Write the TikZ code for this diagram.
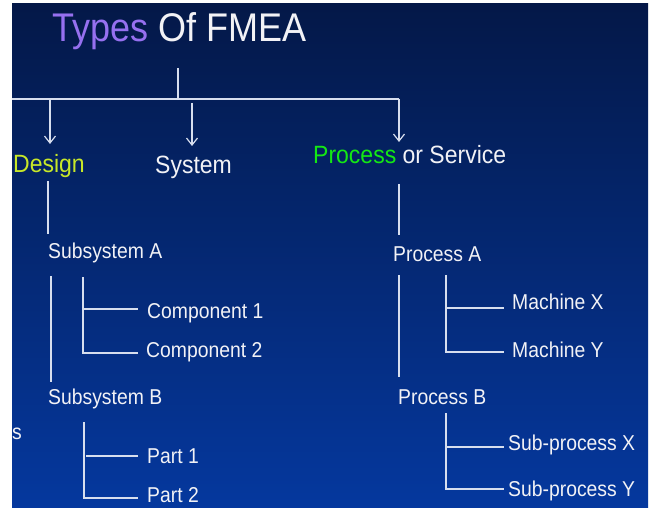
\documentclass[tikz,border=0pt]{standalone}
\usepackage{fontspec}
\setmainfont{Liberation Sans}
\newfontfamily\titlefont[FakeStretch=0.9]{Liberation Sans}
\newfontfamily\headfont[FakeStretch=0.92]{Liberation Sans}
\newfontfamily\labfont[FakeStretch=0.9]{Liberation Sans}
\usetikzlibrary{arrows.meta}
\definecolor{bgtop}{RGB}{4,24,72}
\definecolor{bgmid}{RGB}{5,38,112}
\definecolor{bgbot}{RGB}{5,56,158}
\definecolor{linecol}{RGB}{215,222,238}
\definecolor{txtcol}{RGB}{242,242,246}
\definecolor{purp}{RGB}{150,112,240}
\definecolor{yelgr}{RGB}{200,232,40}
\definecolor{procgr}{RGB}{20,232,20}
\tikzset{
  conn/.style={draw=linecol, line width=1.4pt},
  arr/.style={conn, -{Straight Barb[length=7pt,width=11pt,line width=1.2pt]}},
  lab/.style={anchor=base west, inner sep=0pt, text=txtcol, font=\labfont\fontsize{21.5}{24}\selectfont},
  head/.style={anchor=base west, inner sep=0pt, text=txtcol, font=\headfont\fontsize{25}{28}\selectfont},
}
\begin{document}
\begin{tikzpicture}[x=1pt,y=-1pt]
\useasboundingbox (0,0) rectangle (649,508);
\fill[white] (0,0) rectangle (649,508);
\shade[top color=bgtop, middle color=bgmid, bottom color=bgbot] (12,4) rectangle (648,507);
% title
\node[anchor=base west, inner sep=0pt, text=txtcol, font=\titlefont\fontsize{40}{44}\selectfont] (title) at (52,41.5) {\textcolor{purp}{Types} Of FMEA};
% top tree
\coordinate (t1) at (178,68);
\coordinate (t2) at (178,99);
\coordinate (hl) at (12,99);
\coordinate (hr) at (399,99);
\coordinate (d0) at (50,99);
\coordinate (s0) at (192,103);
\draw[conn] (t1) -- (t2);
\draw[conn] (hl) -- (hr);
\node[head, text=yelgr] (design) at (13,173) {Design};
\node[head] (system) at (155,174) {System};
\node[head] (process) at (313,164) {\textcolor{procgr}{Process} or Service};
\draw[arr] (d0) -- (50,144);
\draw[arr] (s0) -- (192,146);
\draw[arr] (hr) -- (399,142);
% design branch
\node[lab] (subA) at (48,259) {Subsystem A};
\node[lab] (comp1) at (147,319) {Component 1};
\node[lab] (comp2) at (146,357) {Component 2};
\node[lab] (subB) at (48,404) {Subsystem B};
\node[lab] (s) at (12,439) {s};
\node[lab] (part1) at (147,463) {Part 1};
\node[lab] (part2) at (147,502) {Part 2};
\draw[conn] (48,181) -- (48,234);
\draw[conn] (51,276) -- (51,382);
\draw[conn] (83,277) -- (83,353) -- (138,353);
\draw[conn] (83,309) -- (138,309);
\draw[conn] (84,422) -- (84,498) -- (138,498);
\draw[conn] (86,456) -- (138,456);
% process branch
\node[lab] (procA) at (393,262) {Process A};
\node[lab] (machX) at (512,310) {Machine X};
\node[lab] (machY) at (512,358) {Machine Y};
\node[lab] (procB) at (398,404) {Process B};
\node[lab] (subpX) at (508,450) {Sub-process X};
\node[lab] (subpY) at (508,496) {Sub-process Y};
\draw[conn] (399,184) -- (399,235);
\draw[conn] (399,275) -- (399,377);
\draw[conn] (446,275) -- (446,352) -- (504,352);
\draw[conn] (446,308) -- (504,308);
\draw[conn] (446,413) -- (446,489) -- (504,489);
\draw[conn] (446,447) -- (504,447);
\end{tikzpicture}
\end{document}
